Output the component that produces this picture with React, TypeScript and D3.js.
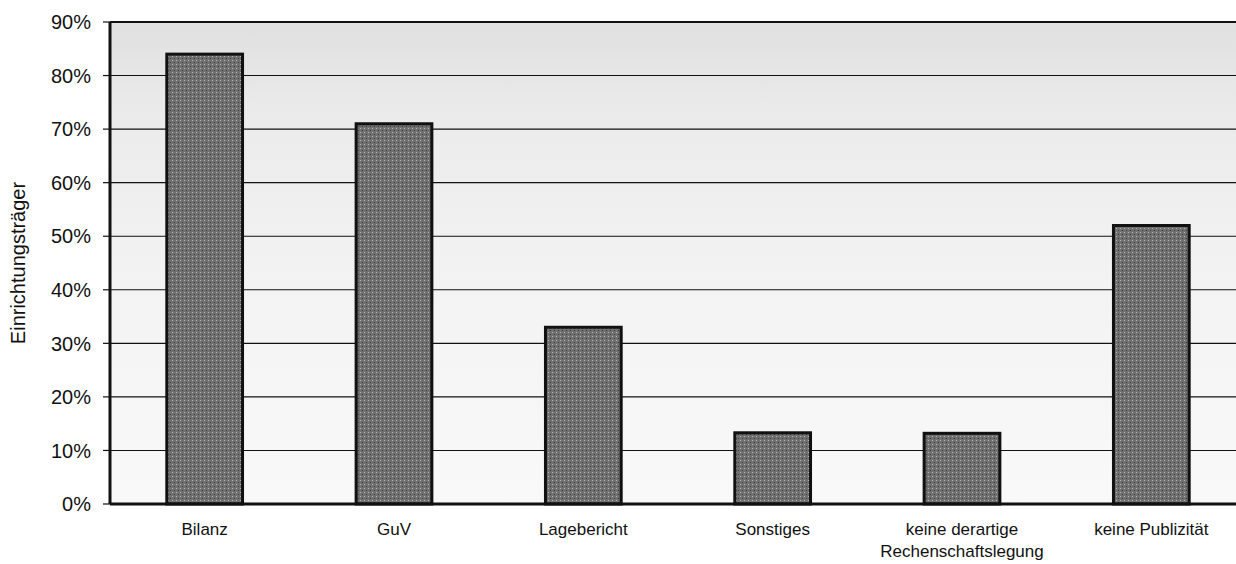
import React from "react";
import { scaleBand, scaleLinear } from "d3";

const categories = [
  ["Bilanz"],
  ["GuV"],
  ["Lagebericht"],
  ["Sonstiges"],
  ["keine derartige", "Rechenschaftslegung"],
  ["keine Publizität"],
];
const values = [84, 71, 33, 13.3, 13.2, 52];
const yTicks = [0, 10, 20, 30, 40, 50, 60, 70, 80, 90];
const yLabel = "Einrichtungsträger";

export default function App() {
  const width = 1236,
    height = 564,
    left = 110,
    right = 1246,
    top = 22,
    bottom = 504;

  const x = scaleBand<number>()
    .domain(values.map((_, i) => i))
    .range([left, right])
    .paddingInner(0.6)
    .paddingOuter(0.3);

  const y = scaleLinear().domain([0, 90]).range([bottom, top]);

  return (
    <div style={{ position: "absolute", left: 0, top: 0 }}>
      <svg width={width} height={height} style={{ display: "block", fontFamily: "Liberation Sans, Arial, sans-serif" }}>
        <defs>
          <linearGradient id="bg" x1="0" y1="0" x2="0" y2="1">
            <stop offset="0" stopColor="#e0e0e0" />
            <stop offset="0.2" stopColor="#ebebeb" />
            <stop offset="0.55" stopColor="#f3f3f3" />
            <stop offset="1" stopColor="#f9f9f9" />
          </linearGradient>
          <pattern id="dots" width="4" height="4" patternUnits="userSpaceOnUse">
            <rect width="4" height="4" fill="#707070" />
            <rect width="1" height="1" fill="#b4b4b4" />
            <rect x="2" y="2" width="1" height="1" fill="#3a3a3a" />
          </pattern>
        </defs>
        <rect width={width} height={height} fill="#fff" />
        <rect x={left} y={top} width={right - left} height={bottom - top} fill="url(#bg)" />

        {yTicks.map(t => (
          <g key={t}>
            {t > 0 && t < 90 && (
              <line x1={left} x2={right} y1={y(t)} y2={y(t)} stroke="#111" strokeWidth={1.1} />
            )}
            <line x1={left - 7} x2={left} y1={y(t)} y2={y(t)} stroke="#111" strokeWidth={1.2} />
            <text x={91} y={y(t)} dy="0.36em" textAnchor="end" fontSize={20} fill="#111">
              {t}%
            </text>
          </g>
        ))}

        <line x1={left} x2={right} y1={top} y2={top} stroke="#111" strokeWidth={2} />

        {values.map((v, i) => (
          <rect
            key={i}
            x={x(i)}
            y={y(v)}
            width={x.bandwidth()}
            height={bottom - y(v)}
            fill="url(#dots)"
            stroke="#111"
            strokeWidth={3}
          />
        ))}

        <line x1={left} x2={left} y1={top} y2={bottom} stroke="#111" strokeWidth={3} />
        <line x1={left} x2={right} y1={bottom} y2={bottom} stroke="#111" strokeWidth={3} />

        {categories.map((lines, i) => (
          <text
            key={i}
            x={(x(i) ?? 0) + x.bandwidth() / 2}
            y={535}
            textAnchor="middle"
            fontSize={17}
            fill="#111"
          >
            {lines.map((l, j) => (
              <tspan key={j} x={(x(i) ?? 0) + x.bandwidth() / 2} dy={j === 0 ? 0 : 22}>
                {l}
              </tspan>
            ))}
          </text>
        ))}

        <text
          transform={`translate(25, ${(top + bottom) / 2}) rotate(-90)`}
          textAnchor="middle"
          fontSize={20}
          fill="#111"
        >
          {yLabel}
        </text>
      </svg>
    </div>
  );
}
